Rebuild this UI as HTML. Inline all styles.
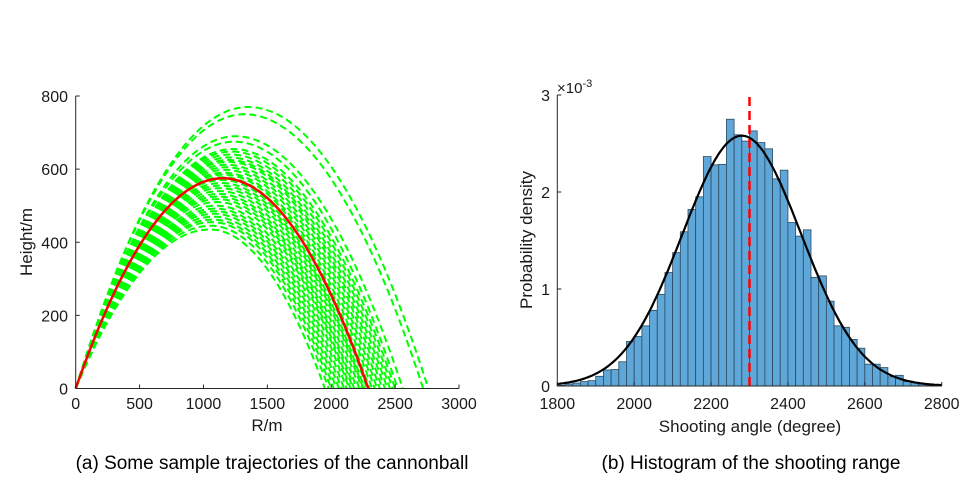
<!DOCTYPE html>
<html><head><meta charset="utf-8"><style>
body{margin:0;background:#fff;font-family:"Liberation Sans",Arial,sans-serif}
svg text{font-family:"Liberation Sans",Arial,sans-serif;fill:#1a1a1a}
</style></head><body>
<svg id="s" width="975" height="497" xmlns="http://www.w3.org/2000/svg">
<g id="left"></g>
<g id="right"></g>
<text x="272" y="469" font-size="19" text-anchor="middle" style="fill:#000">(a) Some sample trajectories of the cannonball</text>
<text x="751" y="469" font-size="19" text-anchor="middle" style="fill:#000">(b) Histogram of the shooting range</text>
</svg>
<script>
// ---- left chart data: [range, peakHeight, peakX]
const trajRanges=[2760,2720,2560,2520,2500,2480,2460,2440,2420,2400,2380,2360,2340,2320,2300,2280,2260,2250,2240,2220,2200,2180,2170,2150,2140,2120,2100,2080,2060,2040,2020,2000,1980,1950];
const trajHeights=[770,750,690,675,655,648,640,632,625,620,612,605,598,590,585,578,570,562,555,548,540,532,525,518,510,500,492,485,478,470,462,455,445,435];
const trajPeakX=[1350,1320,1250,1240,1230,1220,1210,1200,1195,1190,1180,1175,1170,1160,1155,1150,1145,1140,1135,1130,1125,1120,1115,1110,1105,1100,1095,1090,1085,1080,1075,1070,1060,1050];
const meanRange=2290, meanHeight=575, meanPeakX=1150;
const xTicksL=[0,500,1000,1500,2000,2500,3000];
const yTicksL=[0,200,400,600,800];
// ---- right chart data
const binStart=1800, binWidth=20;
const density=[0.007,0.02,0.03,0.045,0.055,0.1,0.165,0.17,0.25,0.46,0.51,0.62,0.78,0.945,1.17,1.375,1.59,1.82,1.95,2.365,2.28,2.285,2.75,2.59,2.525,2.63,2.51,2.445,2.135,2.225,1.685,1.545,1.61,1.12,1.135,0.875,0.62,0.605,0.48,0.39,0.225,0.225,0.19,0.095,0.11,0.045,0.035,0.02,0.013,0.007];
const fitMean=2280, fitSd=154.6;
const meanLine=2300;
const xTicksR=[1800,2000,2200,2400,2600,2800];
const yTicksR=[0,1,2,3];

const NS="http://www.w3.org/2000/svg";
function mk(p,t,a,txt){const e=document.createElementNS(NS,t);for(const k in a)e.setAttribute(k,a[k]);if(txt!==undefined)e.textContent=txt;p.appendChild(e);return e;}

// left axes
const L=document.getElementById('left');
const lx=v=>75.7+v*(459-75.7)/3000, ly=v=>388.5-v*(388.5-96)/800;
function traj(R,H,P){let pts=[];for(let i=0;i<=120;i++){const x=R*i/120;let y=x<P?H*(1-Math.pow((P-x)/P,2)):H*(1-Math.pow((x-P)/(R-P),2));pts.push(lx(x).toFixed(1)+','+ly(Math.max(0,y)).toFixed(1));}return pts.join(' ');}
trajRanges.forEach((R,i)=>{
 const e=mk(L,'polyline',{points:traj(R,trajHeights[i],trajPeakX[i]),fill:'none',stroke:'#00ff00','stroke-width':2,'stroke-dasharray':'7,4'});
 
 
});
const mr=mk(L,'polyline',{points:traj(meanRange,meanHeight,meanPeakX),fill:'none',stroke:'#ff0000','stroke-width':2.5});


mk(L,'line',{x1:lx(0),y1:ly(0),x2:lx(3000),y2:ly(0),stroke:'#262626'});
mk(L,'line',{x1:lx(0),y1:ly(0),x2:lx(0),y2:ly(800),stroke:'#262626'});
xTicksL.forEach(v=>{mk(L,'line',{x1:lx(v),y1:ly(0),x2:lx(v),y2:ly(0)-4,stroke:'#262626'});const t=mk(L,'text',{x:lx(v),y:409,'font-size':16,'text-anchor':'middle'},v);});
yTicksL.forEach(v=>{mk(L,'line',{x1:lx(0),y1:ly(v),x2:lx(0)+4,y2:ly(v),stroke:'#262626'});const t=mk(L,'text',{x:68,y:ly(v)+6,'font-size':16,'text-anchor':'end'},v);});
mk(L,'text',{x:267,y:431,'font-size':17,'text-anchor':'middle',},'R/m');
mk(L,'text',{x:0,y:0,'font-size':17,'text-anchor':'middle',transform:'translate(32,242) rotate(-90)',},'Height/m');

// right axes
const Rg=document.getElementById('right');
const rx=v=>557.3+(v-1800)*(941.7-557.3)/1000, ry=v=>386-v*97;
density.forEach((d,i)=>{
 const x0=rx(binStart+i*binWidth), x1=rx(binStart+(i+1)*binWidth);
 const b=mk(Rg,'rect',{x:x0,y:ry(d),width:x1-x0,height:ry(0)-ry(d),fill:'#5fa7d9',stroke:'#2b4a60','stroke-width':0.8});
 
 
});
let fp=[];for(let i=0;i<=200;i++){const x=1800+i*5;const y=1000/(fitSd*Math.sqrt(2*Math.PI))*Math.exp(-Math.pow(x-fitMean,2)/(2*fitSd*fitSd));fp.push(rx(x).toFixed(1)+','+ry(y).toFixed(1));}
const fc=mk(Rg,'polyline',{points:fp.join(' '),fill:'none',stroke:'#000','stroke-width':2.2});


const ml=mk(Rg,'line',{x1:rx(meanLine),y1:ry(0),x2:rx(meanLine),y2:ry(3),stroke:'#ff0000','stroke-width':2.5,'stroke-dasharray':'9,5'});


mk(Rg,'line',{x1:rx(1800),y1:ry(0),x2:rx(2800),y2:ry(0),stroke:'#262626'});
mk(Rg,'line',{x1:rx(1800),y1:ry(0),x2:rx(1800),y2:ry(3),stroke:'#262626'});
xTicksR.forEach(v=>{mk(Rg,'line',{x1:rx(v),y1:ry(0),x2:rx(v),y2:ry(0)-4,stroke:'#262626'});const t=mk(Rg,'text',{x:rx(v),y:409,'font-size':16,'text-anchor':'middle'},v);});
yTicksR.forEach(v=>{mk(Rg,'line',{x1:rx(1800),y1:ry(v),x2:rx(1800)+4,y2:ry(v),stroke:'#262626'});const t=mk(Rg,'text',{x:550,y:ry(v)+6,'font-size':16,'text-anchor':'end'},v);});
const ex=mk(Rg,'text',{x:557,y:93,'font-size':15,},'×10');
mk(ex,'tspan',{dy:-6,'font-size':11},'-3');
mk(Rg,'text',{x:750,y:432,'font-size':17,'text-anchor':'middle',},'Shooting angle (degree)');
mk(Rg,'text',{x:0,y:0,'font-size':17,'text-anchor':'middle',transform:'translate(532,240) rotate(-90)',},'Probability density');
</script>
</body></html>
